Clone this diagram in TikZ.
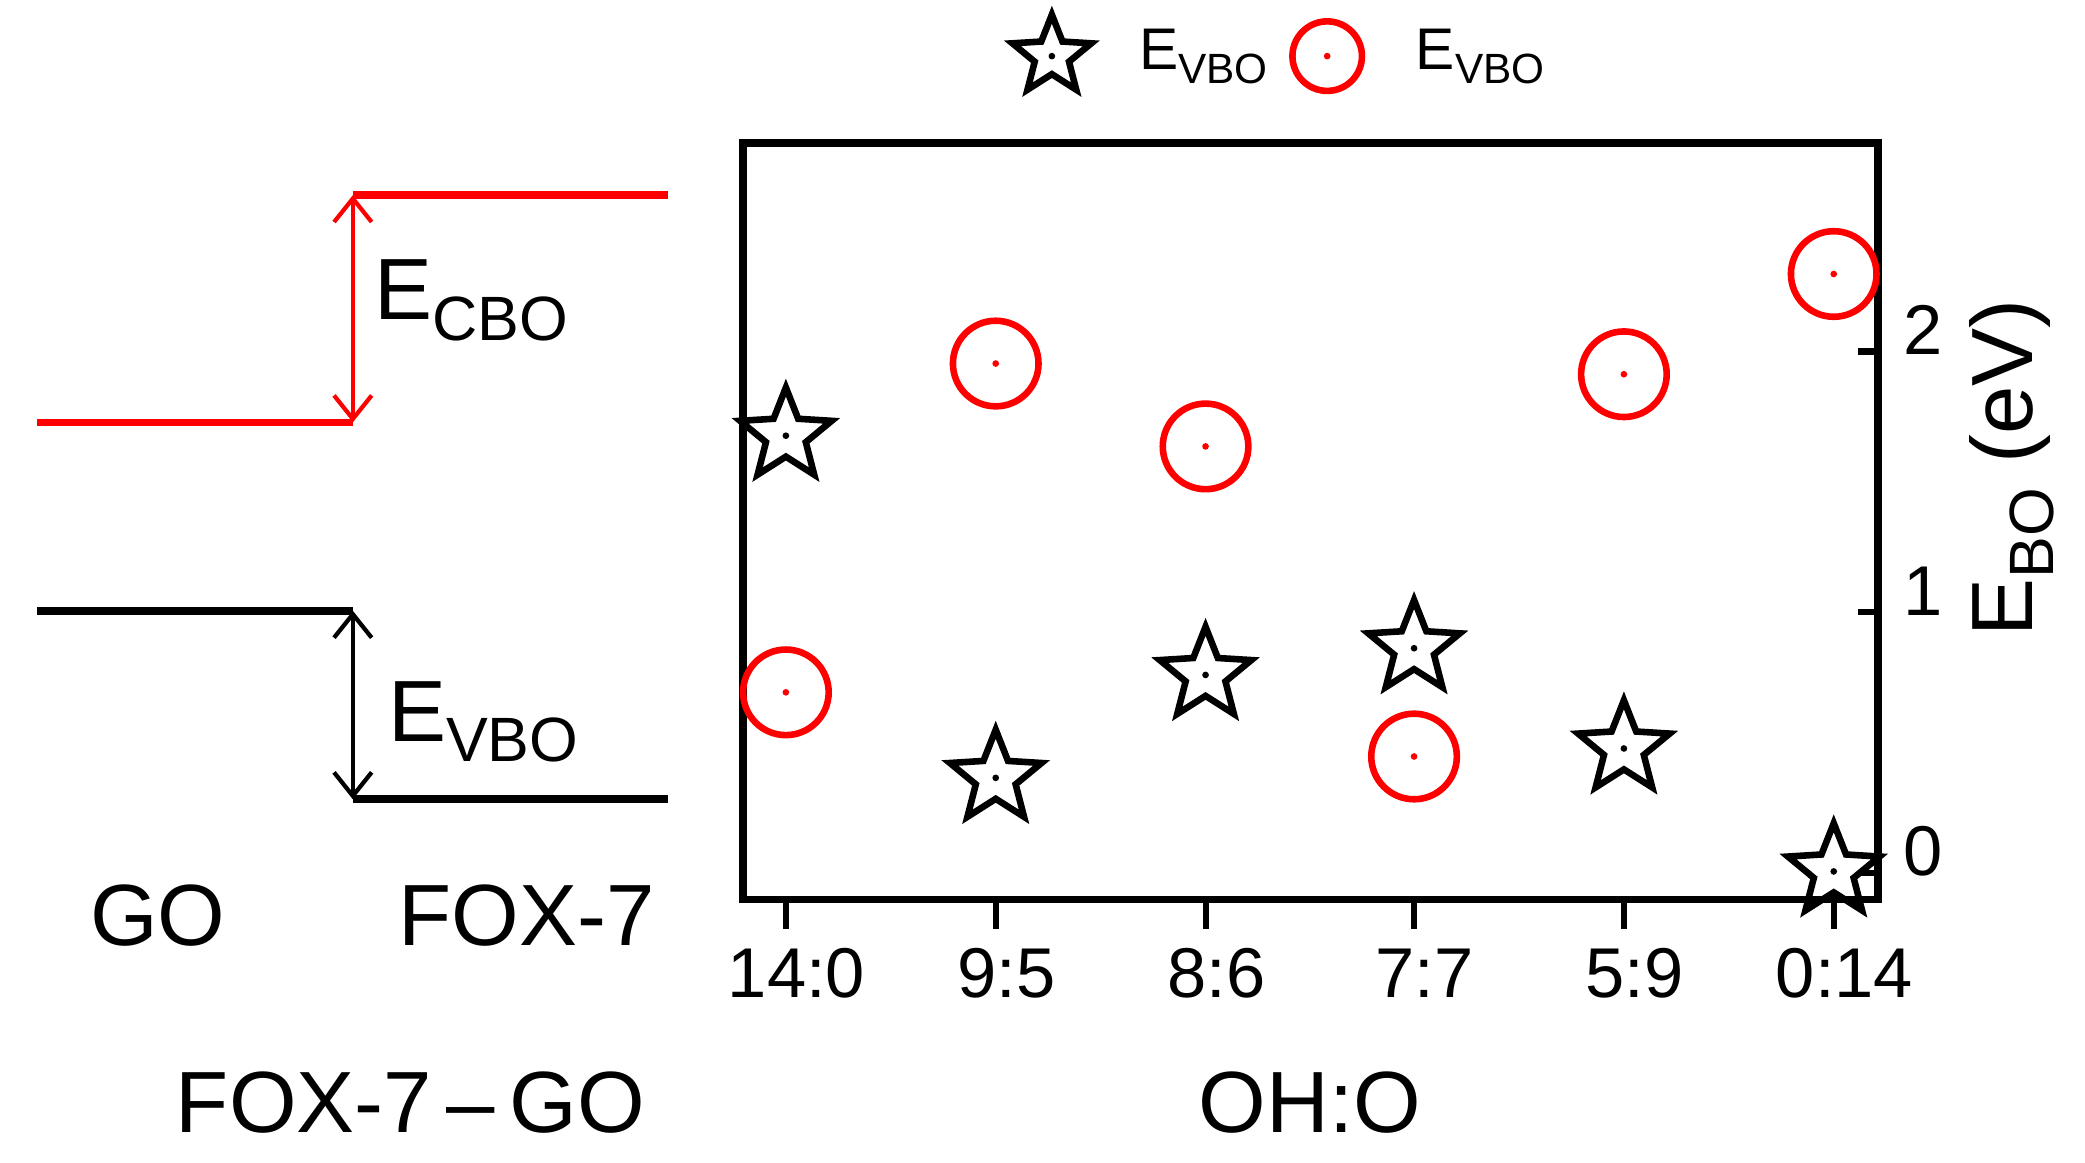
\documentclass[tikz,border=0pt]{standalone}
\usepackage{fontspec}
\setmainfont{Liberation Sans}
\usetikzlibrary{shapes.geometric,arrows.meta}
\newcommand{\lowsub}[1]{\raisebox{-0.45ex}{\scalebox{0.72}{#1}}}
\tikzset{
  big/.style={font=\fontsize{18.5}{22}\selectfont},
  mid/.style={font=\fontsize{15}{18}\selectfont},
  leg/.style={font=\fontsize{12.5}{15}\selectfont},
  starmark/.style={star,star points=5,star point ratio=2.3,draw,line width=1.4pt,minimum size=0.72cm,inner sep=0pt},
  circmark/.style={circle,draw=red,line width=1.4pt,minimum size=0.64cm,inner sep=0pt},
  gap/.style={{Straight Barb[length=5pt,width=8pt]}-{Straight Barb[length=5pt,width=8pt]},line width=0.9pt},
}
\begin{document}
\begin{tikzpicture}[x=0.01cm,y=-0.01cm]
    \useasboundingbox (0,0) rectangle (1560,870);
    % band diagram
    \coordinate (gc) at (28,316); \coordinate (gcr) at (264,316);
    \coordinate (fc) at (264,146); \coordinate (fcr) at (500,146);
    \coordinate (gv) at (28,457); \coordinate (gvr) at (264,457);
    \coordinate (fv) at (264,598); \coordinate (fvr) at (500,598);
    \draw[red,line width=1.6pt] (gc) -- (gcr);
    \draw[red,line width=1.6pt] (fc) -- (fcr);
    \draw[line width=1.6pt] (gv) -- (gvr);
    \draw[line width=1.6pt] (fv) -- (fvr);
    \draw[red,gap] (gcr) -- (fc);
    \draw[gap] (gvr) -- (fv);
    \node[big,anchor=west] (cbo) at (268,225) {E\lowsub{CBO}};
    \node[big,anchor=west] (vbo) at (278,540) {E\lowsub{VBO}};
    \node[big] (go) at (118,685) {GO};
    \node[big] (fox) at (394,685) {FOX-7};
    \node[big] (pair) at (307,825) {FOX-7\,--\,GO};
    % axes
    \draw[line width=1.6pt] (556,107) rectangle (1405,673);
    \foreach \v/\y in {0/653,1/458,2/263}{
      \draw[line width=1.3pt] (1405,\y) -- (1390,\y);
      \node[mid,anchor=west] at (1412,\y-16) {\v};
    }
    \foreach \lab/\x in {14:0/588,9:5/745,8:6/902,7:7/1058,5:9/1215,0:14/1372}{
      \draw[line width=1.3pt] (\x,673) -- (\x,695);
      \node[mid] at (\x+8,728) {\lab};
    }
    \node[big,rotate=90] (ylab) at (1505,350) {E\lowsub{BO} (eV)};
    \node[big] (xlab) at (980,825) {OH:O};
    % data
    \foreach \x/\y in {588/326,745/582,902/505,1058/485,1215/560,1372/652}{
      \node[starmark] at (\x,\y) {};
      \fill (\x,\y) circle (2.5);
    }
    \foreach \x/\y in {588/518,745/272,902/334,1058/566,1215/280,1372/205}{
      \node[circmark] at (\x,\y) {};
      \fill[red] (\x,\y) circle (2.5);
    }
    % legend
    \node[starmark,minimum size=0.62cm] (ls) at (787,42) {}; \fill (787,42) circle (2.5);
    \node[leg,anchor=west] (lst) at (840,42) {E\lowsub{VBO}};
    \node[circmark,minimum size=0.52cm] (lc) at (993,42) {}; \fill[red] (993,42) circle (2.5);
    \node[leg,anchor=west] (lct) at (1047,42) {E\lowsub{VBO}};
\end{tikzpicture}
\end{document}
